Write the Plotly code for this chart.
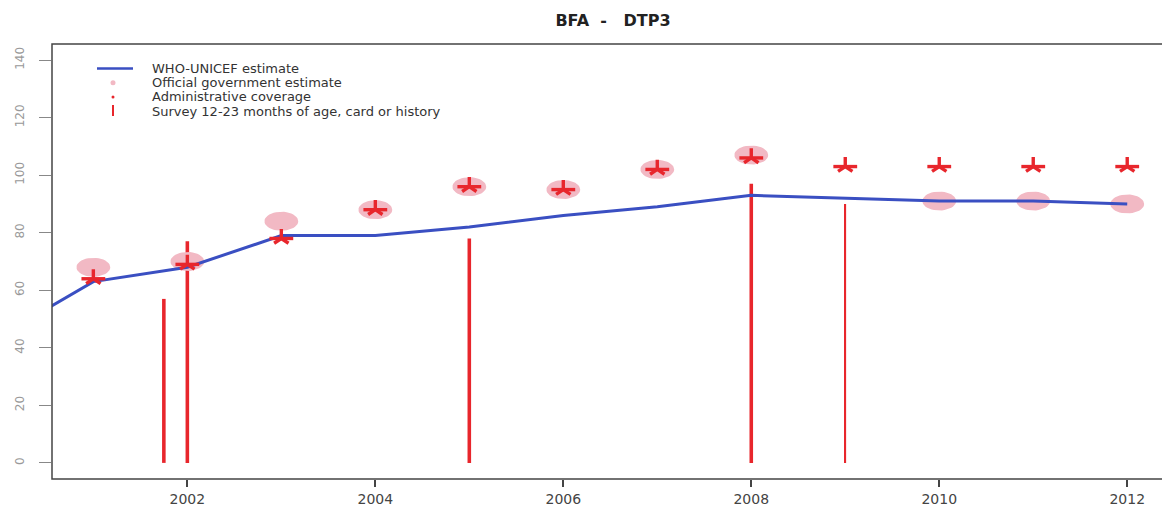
import numpy as np
import plotly.graph_objects as go

# ---------------- data ----------------
years = [2000, 2001, 2002, 2003, 2004, 2005, 2006, 2007, 2008, 2009, 2010, 2011, 2012]
wuenic = [44, 63, 68, 79, 79, 82, 86, 89, 93, 92, 91, 91, 90]

gov_years = [2001, 2002, 2003, 2004, 2005, 2006, 2007, 2008, 2010, 2011, 2012]
gov = [68, 70, 84, 88, 96, 95, 102, 107, 91, 91, 90]

admin_years = [2001, 2002, 2003, 2004, 2005, 2006, 2007, 2008, 2009, 2010, 2011, 2012]
admin = [64, 69, 78, 88, 96, 95, 102, 106, 103, 103, 103, 103]

survey_years = [2001.75, 2002, 2005, 2008, 2009]
survey = [57, 77, 78, 97, 90]

x_ticks = [2002, 2004, 2006, 2008, 2010, 2012]
y_ticks = [0, 20, 40, 60, 80, 100, 120, 140]

legend_labels = ["WHO-UNICEF estimate", "Official government estimate",
                 "Administrative coverage", "Survey 12-23 months of age, card or history"]
title_text = "BFA\u00a0\u00a0-\u00a0\u00a0\u00a0DTP3"

# ---------------- style ----------------
BLUE = "#3a4fc2"
RED = "#e8262c"
PINK = "#f2b9c4"
FRAME = "#444444"
FONT = "DejaVu Sans"

W, H = 1162, 508
L, T, B, R = 52, 44, 29, 0
plot_w = W - L - R
plot_h = H - T - B

def px_x(px):
    return (px - L) / plot_w

def px_y(py):
    return (H - B - py) / plot_h

fig = go.Figure()

# official government estimate: soft ellipses around each value
ex, ey = [], []
t = np.linspace(0, 2 * np.pi, 41)
for yr, v in zip(gov_years, gov):
    ex += list(yr + 0.18 * np.cos(t)) + [None]
    ey += list(v + 3.3 * np.sin(t)) + [None]
fig.add_trace(go.Scatter(x=ex, y=ey, mode="lines", fill="toself", fillcolor=PINK,
                         line=dict(width=0, color=PINK), hoverinfo="skip", showlegend=False))

# WHO-UNICEF estimate
fig.add_trace(go.Scatter(x=years, y=wuenic, mode="lines",
                         line=dict(color=BLUE, width=3), showlegend=False))

# surveys
fig.add_trace(go.Bar(x=survey_years, y=survey, base=0,
                     width=[0.038, 0.038, 0.038, 0.038, 0.018],
                     marker=dict(color=RED, line=dict(width=0)), showlegend=False))

# administrative coverage (asterisks)
fig.add_trace(go.Scatter(x=admin_years, y=admin, mode="markers",
                         marker=dict(symbol="line-ew-open", size=17, color=RED,
                                     line=dict(color=RED, width=3.4)), showlegend=False))
fig.add_trace(go.Scatter(x=admin_years, y=admin, mode="markers",
                         marker=dict(symbol="y-up-open", size=12, color=RED,
                                     line=dict(color=RED, width=3.4)), showlegend=False))

row_y = [68.5, 82.7, 96.9, 111.1]

shapes = [
    # frame (right side falls outside the picture)
    dict(type="rect", xref="paper", yref="paper", x0=0, x1=1.05, y0=0, y1=1,
         line=dict(color=FRAME, width=1.5), layer="above"),
    # legend symbols
    dict(type="line", xref="paper", yref="paper", x0=px_x(97), x1=px_x(133),
         y0=px_y(row_y[0]), y1=px_y(row_y[0]), line=dict(color=BLUE, width=2.5)),
    dict(type="circle", xref="paper", yref="paper", xsizemode="pixel", ysizemode="pixel",
         xanchor=px_x(113), yanchor=px_y(row_y[1]), x0=-2.5, x1=2.5, y0=-2.5, y1=2.5,
         fillcolor=PINK, line=dict(width=0)),
    dict(type="circle", xref="paper", yref="paper", xsizemode="pixel", ysizemode="pixel",
         xanchor=px_x(113), yanchor=px_y(row_y[2]), x0=-1.5, x1=1.5, y0=-1.5, y1=1.5,
         fillcolor=RED, line=dict(width=0)),
    dict(type="line", xref="paper", yref="paper", x0=px_x(113), x1=px_x(113),
         y0=px_y(row_y[3] - 6), y1=px_y(row_y[3] + 5), line=dict(color=RED, width=2)),
]

annotations = []
for i, lab in enumerate(legend_labels):
    annotations.append(dict(text=lab, xref="paper", yref="paper", x=px_x(150),
                            y=px_y(row_y[i]), xanchor="left", yanchor="middle",
                            showarrow=False, font=dict(family=FONT, size=13, color="#333333")))

fig.update_layout(
    width=W, height=H, autosize=False,
    margin=dict(l=L, r=R, t=T, b=B, pad=0, autoexpand=False),
    paper_bgcolor="white", plot_bgcolor="white",
    title=dict(text=title_text, x=px_x(613), xanchor="center", xref="paper",
               y=1 - 20 / H, yanchor="middle", yref="container", automargin=False,
               font=dict(family=FONT, size=16, color="#222222", weight="bold")),
    barmode="overlay",
    showlegend=False,
    shapes=shapes,
    annotations=annotations,
    xaxis=dict(range=[2000.56, 2012.37], tickvals=x_ticks, ticks="outside", ticklen=7,
               tickwidth=1.5, tickcolor=FRAME, showgrid=False, zeroline=False, showline=False,
               automargin=False,
               tickfont=dict(family=FONT, size=14, color="#444444"), ticklabelstandoff=0),
    yaxis=dict(range=[-5.6, 145.6], tickvals=y_ticks, ticks="outside", ticklen=12,
               tickwidth=1.2, tickcolor="#888888", showgrid=False, zeroline=False, showline=False,
               automargin=False,
               tickangle=-90, tickfont=dict(family=FONT, size=12, color="#999999"),
               ticklabelstandoff=10),
)

fig.write_html("out.html", config={"displayModeBar": False},
               post_script="document.body.style.margin='0';document.body.style.overflow='hidden';")
